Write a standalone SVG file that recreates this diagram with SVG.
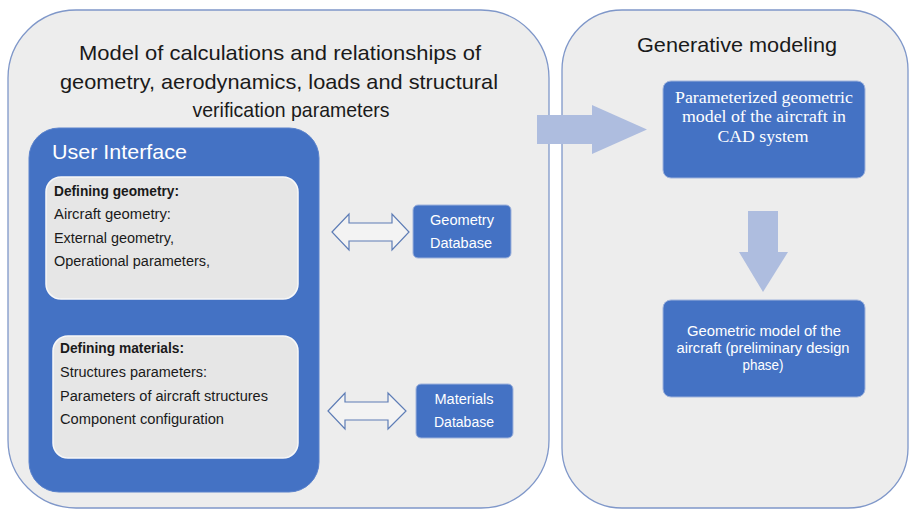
<svg xmlns="http://www.w3.org/2000/svg" width="910" height="510" viewBox="0 0 910 510">
<style>
.panel{fill:#EDEDED;stroke:#7F97C9;stroke-width:1.3}
.ui{fill:#4472C4;stroke:#5A82CC;stroke-width:1}
.inner{fill:#E6E6E6;stroke:#F8F8F8;stroke-width:1.5}
.blue{fill:#4472C4;stroke:#9FB3DC;stroke-width:1}
.t{font-family:"Liberation Sans",Arial,sans-serif;fill:#1A1A1A}
.w{font-family:"Liberation Sans",Arial,sans-serif;fill:#FFFFFF}
.ws{font-family:"Liberation Serif","Times New Roman",serif;fill:#FFFFFF}
.dbl{fill:#F3F3F3;stroke:#5E7DB6;stroke-width:1.2}
.big{fill:#AEBDDF}
</style>
<rect width="910" height="510" fill="#FFFFFF"/>
<g id="panel-model">
<rect class="panel" x="8" y="10" width="541" height="498" rx="68" ry="68"/>
<text class="t" font-size="21" text-anchor="middle" x="280" y="60" textLength="402" lengthAdjust="spacingAndGlyphs">Model of calculations and relationships of</text>
<text class="t" font-size="21" text-anchor="middle" x="279" y="89" textLength="438" lengthAdjust="spacingAndGlyphs">geometry, aerodynamics, loads and structural</text>
<text class="t" font-size="21" text-anchor="middle" x="291" y="117" textLength="197" lengthAdjust="spacingAndGlyphs">verification parameters</text>
</g>
<g id="panel-generative">
<rect class="panel" x="562" y="10" width="346" height="498" rx="60" ry="60"/>
<text class="t" font-size="21" text-anchor="middle" x="737" y="52" textLength="200" lengthAdjust="spacingAndGlyphs">Generative modeling</text>
</g>
<g id="user-interface">
<rect class="ui" x="29" y="128" width="290" height="364" rx="30" ry="30"/>
<text class="w" font-size="21" x="52" y="159" textLength="135" lengthAdjust="spacingAndGlyphs">User Interface</text>
</g>
<g id="defining-geometry">
<rect class="inner" x="46" y="177" width="252" height="122" rx="15" ry="15"/>
<text class="t" font-size="14" font-weight="bold" x="54" y="196" textLength="125" lengthAdjust="spacingAndGlyphs">Defining geometry:</text>
<text class="t" font-size="14" x="54" y="219" textLength="117" lengthAdjust="spacingAndGlyphs">Aircraft geometry:</text>
<text class="t" font-size="14" x="54" y="243" textLength="120" lengthAdjust="spacingAndGlyphs">External geometry,</text>
<text class="t" font-size="14" x="54" y="266" textLength="156" lengthAdjust="spacingAndGlyphs">Operational parameters,</text>
</g>
<g id="defining-materials">
<rect class="inner" x="53" y="336" width="245" height="122" rx="15" ry="15"/>
<text class="t" font-size="14" font-weight="bold" x="60" y="353" textLength="124" lengthAdjust="spacingAndGlyphs">Defining materials:</text>
<text class="t" font-size="14" x="60" y="377" textLength="147" lengthAdjust="spacingAndGlyphs">Structures parameters:</text>
<text class="t" font-size="14" x="60" y="401" textLength="208" lengthAdjust="spacingAndGlyphs">Parameters of aircraft structures</text>
<text class="t" font-size="14" x="60" y="424" textLength="164" lengthAdjust="spacingAndGlyphs">Component configuration</text>
</g>
<g id="geometry-database">
<rect class="blue" x="413" y="205" width="98" height="53" rx="5" ry="5"/>
<text class="w" font-size="14" text-anchor="middle" x="462" y="225" textLength="64" lengthAdjust="spacingAndGlyphs">Geometry</text>
<text class="w" font-size="14" text-anchor="middle" x="461" y="248" textLength="62" lengthAdjust="spacingAndGlyphs">Database</text>
</g>
<g id="materials-database">
<rect class="blue" x="416" y="384" width="97" height="54" rx="5" ry="5"/>
<text class="w" font-size="14" text-anchor="middle" x="464" y="404" textLength="59" lengthAdjust="spacingAndGlyphs">Materials</text>
<text class="w" font-size="14" text-anchor="middle" x="464" y="427" textLength="60" lengthAdjust="spacingAndGlyphs">Database</text>
</g>
<g id="parameterized-model">
<rect class="blue" x="663" y="81" width="202" height="97" rx="8" ry="8"/>
<text class="ws" font-size="16.5" text-anchor="middle" x="764" y="103" textLength="178" lengthAdjust="spacingAndGlyphs">Parameterized geometric</text>
<text class="ws" font-size="16.5" text-anchor="middle" x="764" y="122" textLength="164" lengthAdjust="spacingAndGlyphs">model of the aircraft in</text>
<text class="ws" font-size="16.5" text-anchor="middle" x="763" y="142" textLength="91" lengthAdjust="spacingAndGlyphs">CAD system</text>
</g>
<g id="geometric-model">
<rect class="blue" x="663" y="300" width="202" height="97" rx="8" ry="8"/>
<text class="w" font-size="14.5" text-anchor="middle" x="764" y="336" textLength="154" lengthAdjust="spacingAndGlyphs">Geometric model of the</text>
<text class="w" font-size="14.5" text-anchor="middle" x="763" y="353" textLength="173" lengthAdjust="spacingAndGlyphs">aircraft (preliminary design</text>
<text class="w" font-size="14.5" text-anchor="middle" x="763" y="370" textLength="41" lengthAdjust="spacingAndGlyphs">phase)</text>
</g>
<g id="connectors">
<path class="dbl" d="M332,232 L349,214 L349,223 L392,223 L392,214 L409,232 L392,250 L392,241 L349,241 L349,250 Z"/>
<path class="dbl" d="M328,411 L345,393 L345,402 L388,402 L388,393 L406,411 L388,429 L388,420 L345,420 L345,429 Z"/>
<path class="big" d="M537,115 L592,115 L592,105 L647,129.5 L592,154 L592,144 L537,144 Z"/>
<path class="big" d="M748,211 L778,211 L778,252 L788,252 L763,292 L739,252 L748,252 Z"/>
</g>
</svg>
